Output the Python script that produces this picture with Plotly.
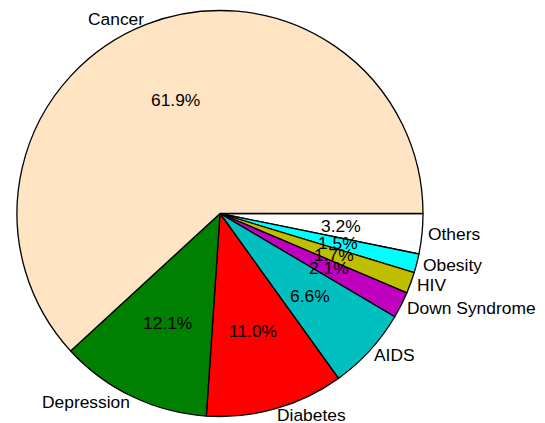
import math
import plotly.graph_objects as go

labels = ["Cancer", "Depression", "Diabetes", "AIDS", "Down Syndrome", "HIV", "Obesity", "Others"]
values = [61.9, 12.1, 11.0, 6.6, 2.1, 1.7, 1.5, 3.2]
colors = ["#FFE4C4", "#008000", "#FF0000", "#00BFBF", "#BF00BF", "#BFBF00", "#00FFFF", "#FFFFFF"]

# The page body has an 8px default margin, so the figure is drawn 8px in from the window edge.
OFF = 8
W, H = 545 - OFF, 423 - OFF
cx, cy, R = 220.0 - OFF, 213.5 - OFF, 203.0  # pie centre and radius in figure pixels
PCT_DIST = 0.6
LABEL_DIST = 1.03
FONT = dict(family="Liberation Sans, Arial, Helvetica, sans-serif", size=17.4, color="black")

# Slices go counterclockwise from 3 o'clock: draw them clockwise in reverse order.
fig = go.Figure(go.Pie(
    labels=labels[::-1],
    values=values[::-1],
    sort=False,
    direction="clockwise",
    rotation=90,
    textinfo="none",
    hoverinfo="label+percent",
    marker=dict(colors=colors[::-1], line=dict(color="black", width=1.3)),
    domain=dict(x=[(cx - R) / W, (cx + R) / W], y=[(H - cy - R) / H, (H - cy + R) / H]),
    showlegend=False,
))

total = sum(values)
annotations = []
cum = 0.0
for lab, v in zip(labels, values):
    mid = (cum + v / 2) / total * 2 * math.pi
    cum += v
    c, s = math.cos(mid), math.sin(mid)
    px = cx + PCT_DIST * R * c
    py = cy - PCT_DIST * R * s
    annotations.append(dict(
        x=px / W, y=1 - py / H, xref="paper", yref="paper",
        text=f"{v:.1f}%", showarrow=False, borderpad=0, borderwidth=0,
        xanchor="center", yanchor="middle", font=FONT,
    ))
    lx = cx + LABEL_DIST * R * c
    ly = cy - LABEL_DIST * R * s
    annotations.append(dict(
        x=lx / W, y=1 - ly / H, xref="paper", yref="paper",
        text=lab, showarrow=False, borderpad=0, borderwidth=0,
        xanchor="left" if c > 0 else "right", yanchor="middle", font=FONT,
    ))

fig.update_layout(
    width=W, height=H,
    margin=dict(l=0, r=0, t=0, b=0),
    paper_bgcolor="white", plot_bgcolor="white",
    annotations=annotations,
    font=FONT,
)

fig.write_html("out.html")
